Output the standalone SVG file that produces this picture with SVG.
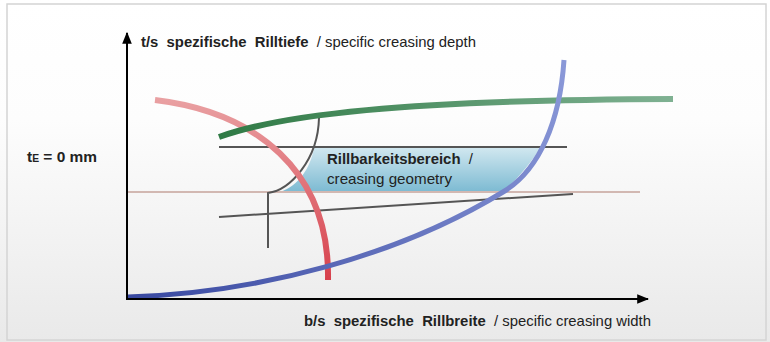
<svg xmlns="http://www.w3.org/2000/svg" width="770" height="342" viewBox="0 0 770 342">
<defs>
<linearGradient id="bg" x1="0" y1="0" x2="0" y2="1">
<stop offset="0" stop-color="#ffffff"/>
<stop offset="0.35" stop-color="#fdfdfd"/>
<stop offset="1" stop-color="#e9e9e9"/>
</linearGradient>
<linearGradient id="area" x1="0" y1="0" x2="0" y2="1">
<stop offset="0" stop-color="#d2e8f0"/>
<stop offset="1" stop-color="#7cbad2"/>
</linearGradient>
<linearGradient id="red" x1="0" y1="0" x2="0" y2="1">
<stop offset="0" stop-color="#e9a0a2"/>
<stop offset="1" stop-color="#d7404c"/>
</linearGradient>
<linearGradient id="green" x1="0" y1="0" x2="1" y2="0">
<stop offset="0" stop-color="#2f7a45"/>
<stop offset="1" stop-color="#7fb192"/>
</linearGradient>
<linearGradient id="blue" gradientUnits="userSpaceOnUse" x1="128" y1="297" x2="563" y2="60">
<stop offset="0" stop-color="#3848a0"/>
<stop offset="1" stop-color="#8a98d8"/>
</linearGradient>
<marker id="arr" viewBox="0 0 10 10" refX="9" refY="5" markerWidth="6" markerHeight="6" orient="auto">
<path d="M0,1 L10,5 L0,9 Z" fill="#000"/>
</marker>
<style>
.ax{stroke:#000;stroke-width:2;fill:none}
.gl{stroke:#555;stroke-width:2;fill:none}
.t{font-family:"Liberation Sans",Arial,sans-serif;font-size:15px;fill:#222;white-space:pre}
.b{font-weight:bold}
</style>
</defs>
<rect x="0" y="0" width="770" height="342" fill="url(#bg)"/>
<rect x="7" y="4" width="759" height="336" fill="none" stroke="#d4d4d4" stroke-width="1.5"/>
<g id="area-fill">
<path d="M314,147 L541,147 Q525,172 503,192 L280,192 C298,186 311,168 314,147 Z" fill="url(#area)"/>
</g>
<g id="connectors">
<line x1="127" y1="192" x2="640" y2="192" stroke="#d2b8b2" stroke-width="2"/>
<line class="gl" x1="219" y1="147" x2="567" y2="147"/>
<line class="gl" x1="219" y1="217" x2="573" y2="194"/>
<path class="gl" stroke-width="1.5" d="M268,248 L268,193 C290,190 318,160 319,118"/>
<path d="M155,100 C255,112 330,170 328,280" fill="none" stroke="url(#red)" stroke-width="6"/>
<path d="M219,137 C280,115 400,100 673,99" fill="none" stroke="url(#green)" stroke-width="6"/>
<path d="M128,297 C260,293 400,255 503,192 C540,170 560,120 564,60" fill="none" stroke="url(#blue)" stroke-width="5"/>
<line class="ax" x1="127" y1="300" x2="127" y2="33" marker-end="url(#arr)"/>
<line class="ax" x1="126" y1="299" x2="648" y2="299" marker-end="url(#arr)"/>
</g>
<g id="labels">
<text class="t" x="141" y="47" textLength="335" lengthAdjust="spacingAndGlyphs" xml:space="preserve"><tspan class="b">t/s  spezifische  Rilltiefe</tspan>  / specific creasing depth</text>
<text class="t b" x="27" y="162" textLength="70" lengthAdjust="spacingAndGlyphs">t<tspan font-size="10px">E</tspan> = 0 mm</text>
<text class="t" x="327" y="164" textLength="146" lengthAdjust="spacingAndGlyphs" xml:space="preserve"><tspan class="b">Rillbarkeitsbereich</tspan>  /</text>
<text class="t" x="327" y="184" textLength="125" lengthAdjust="spacingAndGlyphs">creasing geometry</text>
<text class="t" x="304" y="326" textLength="347" lengthAdjust="spacingAndGlyphs" xml:space="preserve"><tspan class="b">b/s  spezifische  Rillbreite</tspan>  / specific creasing width</text>
</g>
</svg>
